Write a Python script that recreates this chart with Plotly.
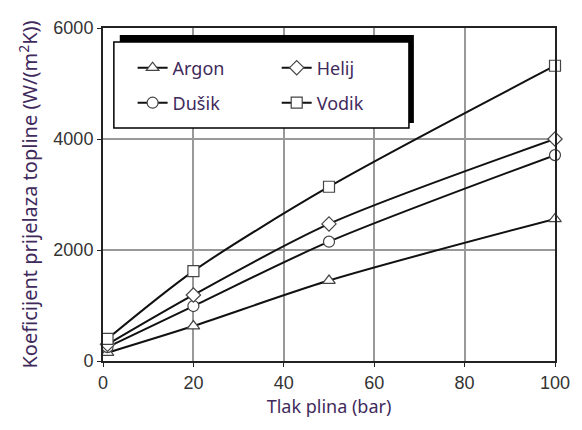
import plotly.graph_objects as go

# ── podaci (očitano s grafa) ─────────────────────────────────────────
tlak = [1, 20, 50, 100]  # bar

argon = [150, 630, 1450, 2560]
dusik = [250, 990, 2150, 3710]
helij = [300, 1190, 2470, 4000]
vodik = [400, 1620, 3140, 5320]

y_ticks = [0, 2000, 4000, 6000]
x_ticks = [0, 20, 40, 60, 80, 100]

TEXT_COL = "#3f2a5c"

serije = [
    ("Argon", argon, "triangle-up", "legend"),
    ("Dušik", dusik, "circle", "legend2"),
    ("Helij", helij, "diamond", "legend3"),
    ("Vodik", vodik, "square", "legend4"),
]

fig = go.Figure()
for ime, vals, simbol, leg in serije:
    fig.add_trace(go.Scatter(
        x=tlak, y=vals, name=ime, legend=leg,
        mode="lines+markers",
        line=dict(color="#111111", width=2, shape="spline", smoothing=0.8),
        marker=dict(symbol=simbol, size=11, color="white",
                    line=dict(color="#444444", width=1.2)),
        cliponaxis=False,
    ))

# ── okvir legende sa sjenom ──────────────────────────────────────────
def px_x(p):
    return (p - 103) / 458

def px_y(p):
    return (361 - p) / 333

fig.add_shape(type="rect", xref="paper", yref="paper", layer="above",
              x0=px_x(120), x1=px_x(418), y0=px_y(123), y1=px_y(35),
              fillcolor="black", line=dict(width=0))
fig.add_shape(type="rect", xref="paper", yref="paper", layer="above",
              x0=px_x(114), x1=px_x(413), y0=px_y(128), y1=px_y(42),
              fillcolor="white", line=dict(color="black", width=1.5))

leg_font = dict(family="Noto Sans, Open Sans, sans-serif", size=18, color=TEXT_COL)
leg_pos = {
    "legend": (px_x(133), px_y(68)),
    "legend2": (px_x(133), px_y(103)),
    "legend3": (px_x(279), px_y(68)),
    "legend4": (px_x(279), px_y(103)),
}
leg_layout = {}
for k, (lx, ly) in leg_pos.items():
    leg_layout[k] = dict(x=lx, y=ly, xanchor="left", yanchor="middle",
                         bgcolor="rgba(0,0,0,0)", borderwidth=0,
                         font=leg_font)

fig.update_layout(
    width=582, height=430,
    margin=dict(l=103, r=21, t=28, b=69),
    plot_bgcolor="white", paper_bgcolor="white",
    showlegend=True,
    **leg_layout,
    xaxis=dict(
        range=[0, 100], tickvals=x_ticks,
        showgrid=True, gridcolor="#999999", gridwidth=1.5,
        showline=True, linecolor="#222222", linewidth=2, mirror=True,
        ticks="outside", ticklen=4, tickcolor="#222222",
        tickfont=dict(family="Liberation Sans, Arial, sans-serif", size=18, color="#333333"),
        title=dict(text="Tlak plina (bar)", standoff=9,
                   font=dict(family="Noto Sans, Open Sans, sans-serif", size=18, color=TEXT_COL)),
        zeroline=False,
    ),
    yaxis=dict(
        range=[0, 6000], tickvals=y_ticks,
        showgrid=True, gridcolor="#999999", gridwidth=1.5,
        showline=True, linecolor="#222222", linewidth=2, mirror=True,
        ticks="outside", ticklen=4, tickcolor="#222222",
        tickfont=dict(family="Liberation Sans, Arial, sans-serif", size=18, color="#333333"),
        title=dict(text="Koeficijent prijelaza topline (W/(m<sup>2</sup>K))", standoff=10,
                   font=dict(family="Noto Sans, Open Sans, sans-serif", size=20, color=TEXT_COL)),
        zeroline=False,
    ),
)

# bez margine stranice, da slika stane točno u prozor
fig.write_html("out.html", config={"displayModeBar": False},
               post_script="document.body.style.margin = '0px';")
